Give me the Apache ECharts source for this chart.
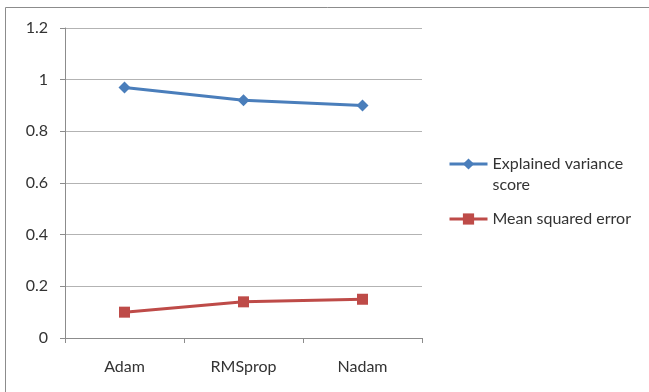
<!DOCTYPE html>
<html>
<head>
<meta charset="utf-8">
<script src="https://cdn.jsdelivr.net/npm/echarts@6/dist/echarts.min.js"></script>
<style>
  html, body { margin: 0; padding: 0; background: #fff; }
  #chart { width: 649px; height: 392px; }
</style>
</head>
<body>
<div id="chart"></div>
<script>
// Optimizers compared on the x axis
const optimizers = ['Adam', 'RMSprop', 'Nadam'];
// Metric values per optimizer
const explainedVariance = [0.97, 0.92, 0.90];
const meanSquaredError = [0.10, 0.14, 0.15];
// Y axis tick labels
const yTicks = ['0', '0.2', '0.4', '0.6', '0.8', '1', '1.2'];

const FONT = 'Lato, "Open Sans", sans-serif';
const TEXT = '#333333';
const BLUE = '#4A7EBB';
const RED = '#BE4B48';

const chart = echarts.init(document.getElementById('chart'), null, { renderer: 'canvas' });

chart.setOption({
  animation: false,
  backgroundColor: '#fff',
  textStyle: { fontFamily: FONT },
  graphic: [
    {
      type: 'rect',
      shape: { x: 5.5, y: 7.5, width: 800, height: 600 },
      style: { fill: 'none', stroke: '#8c8c8c', lineWidth: 1 },
      silent: true
    }
  ],
  grid: { left: 65, top: 28, right: 227, bottom: 54, containLabel: false },
  xAxis: {
    type: 'category',
    data: optimizers,
    boundaryGap: true,
    axisLine: { show: true, lineStyle: { color: '#8c8c8c', width: 1 } },
    axisTick: { show: true, length: 5, alignWithLabel: false, lineStyle: { color: '#8c8c8c' } },
    axisLabel: { color: TEXT, fontSize: 16, fontFamily: FONT, margin: 21 },
    splitLine: { show: false }
  },
  yAxis: {
    type: 'value',
    min: 0,
    max: 1.2,
    interval: 0.2,
    axisLine: { show: true, lineStyle: { color: '#8c8c8c', width: 1 } },
    axisTick: { show: true, length: 5, lineStyle: { color: '#8c8c8c' } },
    axisLabel: {
      color: TEXT, fontSize: 16, fontFamily: FONT, margin: 17,
      formatter: function (v) { return yTicks[Math.round(v / 0.2)]; }
    },
    splitLine: { show: true, lineStyle: { color: '#b3b3b3', width: 1 } }
  },
  legend: {
    orient: 'vertical',
    left: 448,
    top: 132.5,
    padding: 0,
    itemWidth: 38,
    itemHeight: 14,
    itemGap: 13,
    textStyle: { color: TEXT, fontSize: 16, fontFamily: FONT, lineHeight: 21 },
    // the wrapped name keeps its first line level with the legend icon
    formatter: function (name) {
      return name === 'Explained variance score' ? ' \nExplained variance\nscore' : name;
    },
    data: [
      { name: 'Explained variance score', lineStyle: { width: 3 } },
      { name: 'Mean squared error', lineStyle: { width: 3 } }
    ]
  },
  series: [
    {
      name: 'Explained variance score',
      type: 'line',
      data: explainedVariance,
      symbol: 'diamond',
      symbolSize: 12,
      lineStyle: { color: BLUE, width: 3 },
      itemStyle: { color: BLUE }
    },
    {
      name: 'Mean squared error',
      type: 'line',
      data: meanSquaredError,
      symbol: 'rect',
      symbolSize: 11,
      lineStyle: { color: RED, width: 3 },
      itemStyle: { color: RED }
    }
  ]
});
</script>
</body>
</html>
